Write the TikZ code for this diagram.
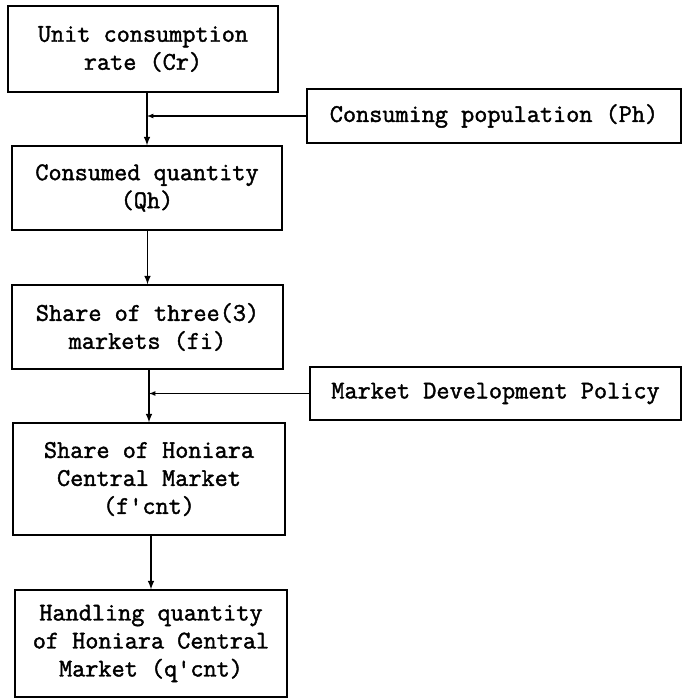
\documentclass[tikz,border=0pt]{standalone}
\usepackage{fontspec}
\newfontfamily\boxfont[FakeBold=1.6]{Latin Modern Mono}

\tikzset{
  stage/.style={draw,line width=1.3pt,rectangle,inner sep=0pt,align=center,
    font=\fontsize{25.5}{28}\selectfont\boxfont},
  flow/.style={->,line width=1.9pt}
}

\begin{document}
\begin{tikzpicture}[>=latex,x=1pt,y=-1pt]
    \useasboundingbox (0,0) rectangle (682,699);

    % main chain of boxes, left column
    \node[stage,minimum width=270pt,minimum height=86pt] (rate) at (143,49)
      {Unit consumption\\rate (Cr)};
    \node[stage,minimum width=270pt,minimum height=84pt] (qty) at (147,188)
      {Consumed quantity\\(Qh)};
    \node[stage,minimum width=271pt,minimum height=84pt] (three) at (147.5,327)
      {Share of three(3)\\markets (fi)};
    \node[stage,minimum width=272pt,minimum height=112pt] (hcm) at (149,479)
      {Share of Honiara\\Central Market\\(f'cnt)};
    \node[stage,minimum width=272pt,minimum height=107pt] (hqty) at (151,643.5)
      {Handling quantity\\of Honiara Central\\Market (q'cnt)};

    % side inputs, right column
    \node[stage,minimum width=374pt,minimum height=54pt] (pop) at (494,116)
      {Consuming population (Ph)};
    \node[stage,minimum width=371pt,minimum height=53pt] (policy) at (495.5,393.5)
      {Market Development Policy};

    % vertical flow between the stages
    \foreach \a/\b in {rate/qty,qty/three,three/hcm,hcm/hqty}
      \draw[flow] (\b.north |- \a.south) -- (\b.north);

    % inputs joining the flow
    \draw[->,line width=1.2pt] (pop.west) -- (pop.west -| qty.north);
    \draw[->,line width=1.2pt] (policy.west) -- (policy.west -| hcm.north);
\end{tikzpicture}
\end{document}
